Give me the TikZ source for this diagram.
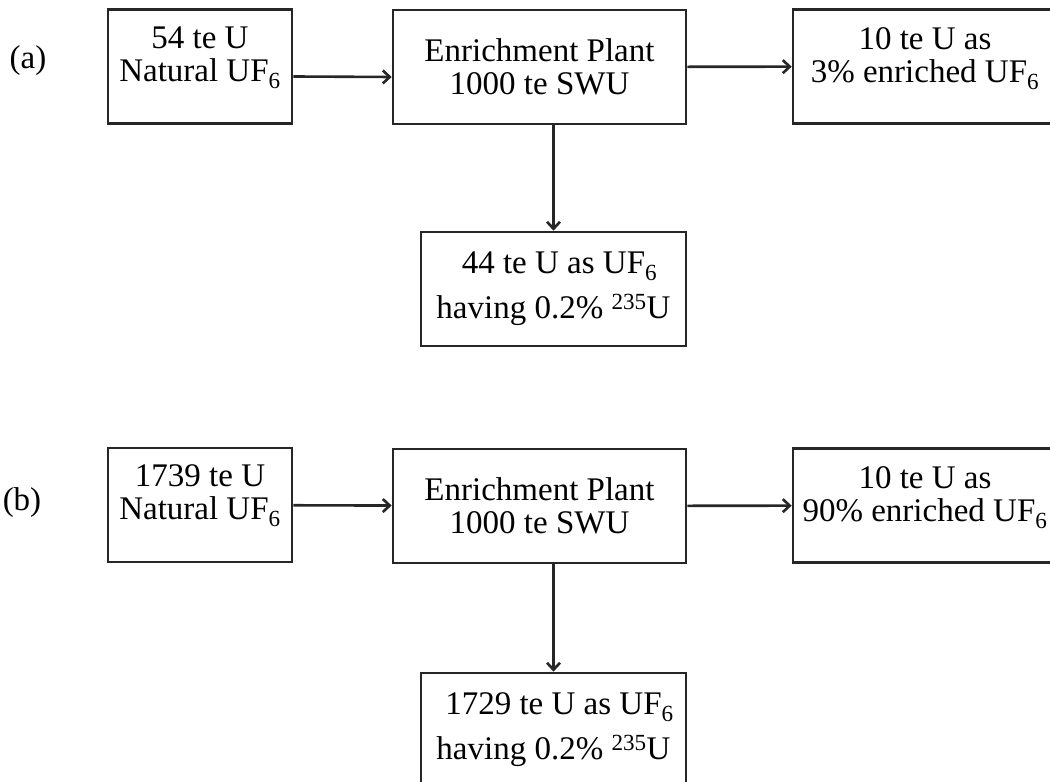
\documentclass[tikz,border=0pt]{standalone}
\usepackage{fontspec}
\setmainfont{Liberation Serif}
\usetikzlibrary{arrows.meta}

\begin{document}
\begin{tikzpicture}[x=1pt, y=1pt, line width=2.6pt,
	main/.style = {draw=black!85, align=center, inner sep=0pt, minimum height=114pt,
		font=\fontsize{33}{33}\selectfont},
	flow/.style = {draw=black!85, -{Straight Barb[length=7pt,width=13pt,line width=2.6pt]}},
	tag/.style = {font=\fontsize{33}{34}\selectfont}]
	\useasboundingbox (0,0) rectangle (1050,782);
	\clip (0,0) rectangle (1050,782);
	% (a) 3% product
	\node[tag] (la) at (28,721) {(a)};
	\node[main, minimum width=184pt] (a0) at (200,715.5) {54 te U\\Natural UF\textsubscript{6}\\[-8pt]};
	\node[main, minimum width=293pt] (a1) at (539.5,715) {Enrichment Plant\\1000 te SWU};
	\node[main, minimum width=264pt] (a2) at (925,715.5) {10 te U as\\3\% enriched UF\textsubscript{6}\\[-10pt]};
	\node[main, minimum width=265pt] (a3) at (553.5,493) {\hspace*{12pt}44 te U as UF\textsubscript{6}\\[12pt]having 0.2\%\ \textsuperscript{235}U};
	\draw[flow] ([yshift=-10pt]a0.east) -- ([yshift=-10pt]a1.west);
	\draw[flow] (a1) -- (a2);
	\draw[flow] (a1.south -| a3.north) -- (a3.north);
	% (b) 90% product
	\node[tag] (lb) at (22,279) {(b)};
	\node[main, minimum width=184pt] (b0) at (200,277) {1739 te U\\Natural UF\textsubscript{6}\\[-8pt]};
	\node[main, minimum width=293pt] (b1) at (539.5,276) {Enrichment Plant\\1000 te SWU};
	\node[main, minimum width=264pt] (b2) at (925,276.5) {10 te U as\\90\% enriched UF\textsubscript{6}\\[-10pt]};
	\node[main, minimum width=265pt] (b3) at (553.5,52) {\hspace*{12pt}1729 te U as UF\textsubscript{6}\\[12pt]having 0.2\%\ \textsuperscript{235}U};
	\draw[flow] (b0) -- (b1);
	\draw[flow] (b1) -- (b2);
	\draw[flow] (b1.south -| b3.north) -- (b3.north);
\end{tikzpicture}
\end{document}
